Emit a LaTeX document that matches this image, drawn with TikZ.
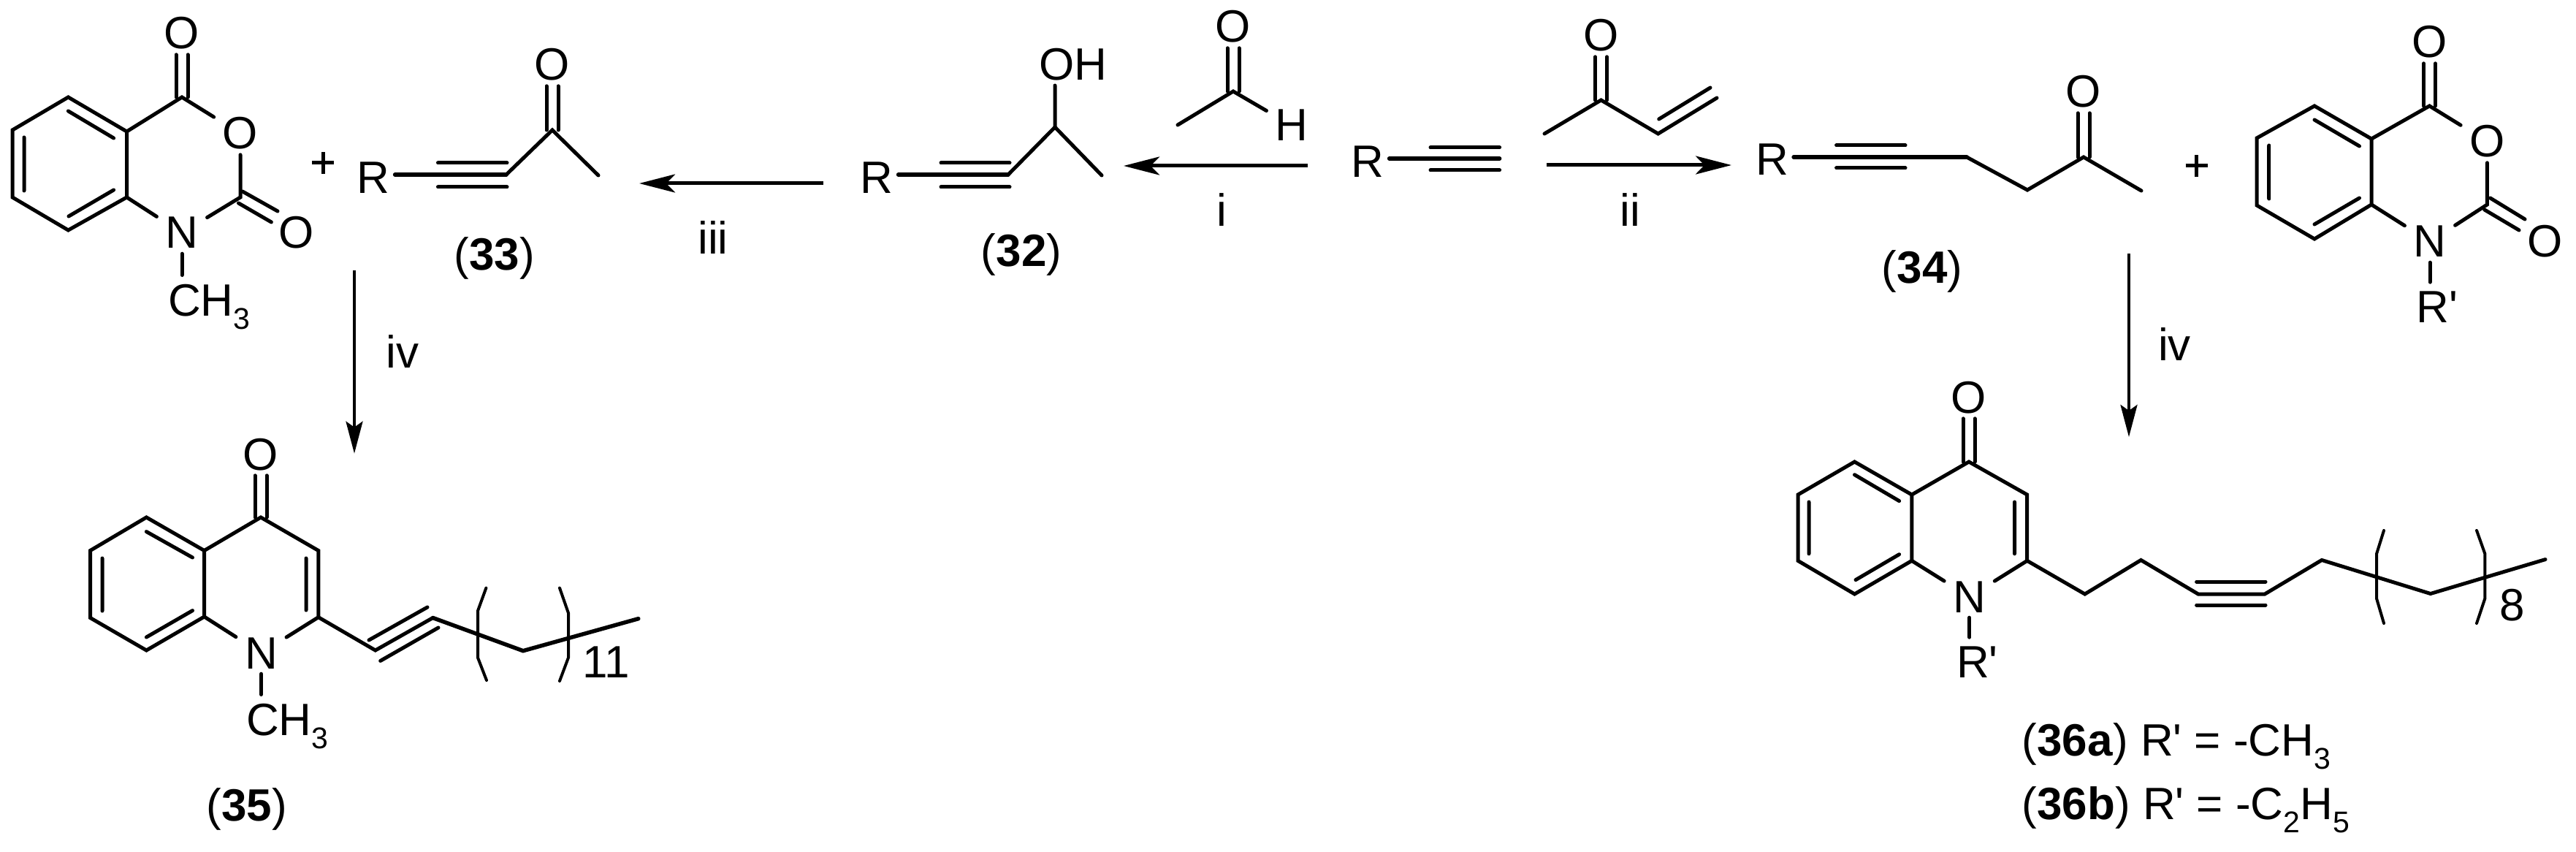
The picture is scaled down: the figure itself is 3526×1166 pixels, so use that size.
\documentclass[tikz,border=0pt]{standalone}
\usepackage{fontspec}
\setmainfont{Liberation Sans}
\newfontfamily\plainf{Liberation Sans}[Ligatures=NoCommon]
\usetikzlibrary{arrows.meta}
\newcommand\chem{\fontsize{62}{70}\selectfont}
\newcommand\subsc[1]{\raisebox{-18pt}{\fontsize{41}{45}\selectfont #1}}
\newcommand\pr{R{\plainf '}}
\tikzset{
 bond/.style={line width=5pt, line cap=round},
 tbond/.style={line width=5.5pt, line cap=round},
 atom/.style={font=\chem, inner xsep=12pt, inner ysep=7pt, anchor=base},
 rgroup/.style={font=\chem, inner xsep=7pt, inner ysep=7pt, anchor=base},
 subst/.style={font=\chem, inner xsep=0pt, inner ysep=12pt, anchor=base west},
 lbl/.style={font=\chem, inner sep=0pt, anchor=base},
 lblw/.style={font=\chem, inner sep=0pt, anchor=base west},
 harrow/.style={line width=5pt, -{Stealth[length=49pt,width=25pt,inset=12pt]}},
 varrow/.style={line width=4pt, -{Stealth[length=44pt,width=23pt,inset=8pt]}},
 brack/.style={line width=4pt, line cap=round},
 plus/.style={line width=5pt},
}
\begin{document}
\begin{tikzpicture}[x=1pt,y=-1pt]
\path[use as bounding box, fill=white] (0,0) rectangle (3526,1166);

% ---------- top-left anhydride + (33)
\coordinate (a1) at (93.4,133); \coordinate (a2) at (173.5,180);
\coordinate (a3) at (173.5,270); \coordinate (a4) at (93.4,315);
\coordinate (a5) at (17,270); \coordinate (a6) at (17,178);
\coordinate (aC4) at (249,133); \coordinate (aC2) at (329,270);
\node[atom] (aOt) at (249,67) {O};
\node[atom] (aOr) at (329,204) {O};
\node[atom] (aOs) at (405.6,339) {O};
\node[atom] (aN) at (249,340) {N};
\node[subst] (aMe) at (230,432) {CH\subsc{3}};
\draw[bond] (a1) -- (a2) -- (a3) -- (a4) -- (a5) -- (a6) -- cycle;
\draw[bond] (93.4,152) -- (155.6,189) (33,188) -- (33,261) (94,296) -- (155.6,260);
\draw[bond] (a2) -- (aC4) -- (aOr);
\draw[bond] (aOr) -- (aC2) -- (aN) -- (a3);
\draw[bond] ([xshift=-8pt]aOt.south) -- ([xshift=-8pt]aC4) ([xshift=8pt]aOt.south) -- ([xshift=8pt]aC4);
\draw[bond] (332,262) -- (380,289) (326.5,278) -- (371.4,304);
\draw[bond] (aN.south) -- (aN.south |- aMe.north);
\node[inner sep=0pt] (aPlus) at (442,223) {};
\draw[plus] ([xshift=-15pt]aPlus.center) -- ([xshift=15pt]aPlus.center) ([yshift=-15pt]aPlus.center) -- ([yshift=15pt]aPlus.center);

\node[rgroup] (sR) at (511,265) {R};
\node[atom] (sO) at (756,110) {O};
\coordinate (sT) at (693,239); \coordinate (sK) at (756,178); \coordinate (sM) at (819,240);
\draw[tbond] (sR.east |- sT) -- (sT);
\draw[bond] (599.5,223) -- (694,223) (599.5,256) -- (694,256);
\draw[bond] (sT) -- (sK) -- (sM);
\draw[bond] ([xshift=-8pt]sO.south) -- ([xshift=-8pt]sK) ([xshift=8pt]sO.south) -- ([xshift=8pt]sK);
\node[lbl] (l33) at (677,369) {(\textbf{33})};

% ---------- (32)
\node[rgroup] (pR) at (1200,265) {R};
\coordinate (pT) at (1380,239); \coordinate (pK) at (1444,174); \coordinate (pM) at (1508,240);
\coordinate (pOe) at (1444,117);
\node[lblw] (pOH) at (1422,110) {OH};
\draw[tbond] (pR.east |- pT) -- (pT);
\draw[bond] (1288,223) -- (1382,223) (1288,256) -- (1382,256);
\draw[bond] (pT) -- (pK) -- (pM) (pK) -- (pOe);
\node[lbl] (l32) at (1398,364) {(\textbf{32})};

% ---------- acetaldehyde
\coordinate (hC) at (1688,125); \coordinate (hM) at (1612,171);
\node[atom] (hO) at (1688,58) {O};
\node[atom] (hH) at (1768,193) {H};
\draw[bond] (hM) -- (hC) -- (hH);
\draw[bond] ([xshift=-8pt]hO.south) -- ([xshift=-8pt]hC) ([xshift=8pt]hO.south) -- ([xshift=8pt]hC);

% ---------- R-alkyne
\node[rgroup] (yR) at (1872,243) {R};
\coordinate (yT) at (2052.6,217);
\draw[tbond] (yR.east |- yT) -- (yT);
\draw[bond] (1958,202) -- (2052.6,202) (1958,233) -- (2052.6,233);

% ---------- MVK
\coordinate (mC) at (2191.5,137); \coordinate (mM) at (2114,183);
\coordinate (mV) at (2269.6,183); \coordinate (mE) at (2350,134);
\node[atom] (mO) at (2191.5,70) {O};
\draw[bond] (mM) -- (mC) -- (mV) -- (mE) (2270.7,163) -- (2341,120);
\draw[bond] ([xshift=-8pt]mO.south) -- ([xshift=-8pt]mC) ([xshift=8pt]mO.south) -- ([xshift=8pt]mC);

% ---------- (34)
\node[rgroup] (qR) at (2425.5,240) {R};
\coordinate (qT) at (2692,215); \coordinate (q2) at (2775,260);
\coordinate (qK) at (2852,215); \coordinate (qM) at (2931,261);
\node[atom] (qO) at (2852,147) {O};
\draw[tbond] (qR.east |- qT) -- (qT);
\draw[bond] (2513.6,199) -- (2608,199) (2513.6,230) -- (2608,230);
\draw[bond] (qT) -- (q2) -- (qK) -- (qM);
\draw[bond] ([xshift=-8pt]qO.south) -- ([xshift=-8pt]qK) ([xshift=8pt]qO.south) -- ([xshift=8pt]qK);
\node[lbl] (l34) at (2631,387) {(\textbf{34})};
\node[inner sep=0pt] (qPlus) at (3006.6,227) {};
\draw[plus] ([xshift=-15pt]qPlus.center) -- ([xshift=15pt]qPlus.center) ([yshift=-15pt]qPlus.center) -- ([yshift=15pt]qPlus.center);

% ---------- right anhydride
\coordinate (b1) at (3168,145); \coordinate (b2) at (3246,190);
\coordinate (b3) at (3246,280); \coordinate (b4) at (3168,327);
\coordinate (b5) at (3089,281); \coordinate (b6) at (3089,189);
\coordinate (bC4) at (3325.4,145); \coordinate (bC2) at (3404.4,280);
\node[atom] (bOt) at (3325.4,79) {O};
\node[atom] (bOr) at (3404.4,215) {O};
\node[atom] (bOs) at (3483.5,351) {O};
\node[atom] (bN) at (3326,352) {N};
\node[subst] (bRp) at (3307,441) {\pr};
\draw[bond] (b1) -- (b2) -- (b3) -- (b4) -- (b5) -- (b6) -- cycle;
\draw[bond] (3168,164) -- (3229.5,200) (3105.7,199) -- (3105.7,272) (3168,307) -- (3229.5,271);
\draw[bond] (b2) -- (bC4) -- (bOr);
\draw[bond] (bOr) -- (bC2) -- (bN) -- (b3);
\draw[bond] ([xshift=-8pt]bOt.south) -- ([xshift=-8pt]bC4) ([xshift=8pt]bOt.south) -- ([xshift=8pt]bC4);
\draw[bond] (3408.6,271) -- (3456,300) (3400.7,287) -- (3448,315);
\draw[bond] (bN.south) -- (bN.south |- bRp.north);

% ---------- (35)
\coordinate (c1) at (200.4,708); \coordinate (c2) at (279.6,753.5);
\coordinate (c3) at (279.6,844); \coordinate (c4) at (200.4,890);
\coordinate (c5) at (123.5,845.5); \coordinate (c6) at (123.5,753.5);
\coordinate (cC4) at (357,708); \coordinate (cC3) at (435.8,753.5); \coordinate (cC2) at (435.8,844.7);
\coordinate (cA) at (513.8,890); \coordinate (cB) at (592.5,845.5);
\coordinate (cD) at (716,890.7); \coordinate (cE) at (873.8,846.7);
\node[atom] (cO) at (357,643) {O};
\node[atom] (cN) at (357.5,915) {N};
\node[subst] (cMe) at (337,1006) {CH\subsc{3}};
\draw[bond] (c1) -- (c2) -- (c3) -- (c4) -- (c5) -- (c6) -- cycle;
\draw[bond] (200.4,727.6) -- (263.5,763) (140,764) -- (140,836) (200.4,872) -- (263.5,835.6) (419,764) -- (419,835);
\draw[bond] (c2) -- (cC4) -- (cC3) -- (cC2) -- (cN) -- (c3);
\draw[bond] ([xshift=-8pt]cO.south) -- ([xshift=-8pt]cC4) ([xshift=8pt]cO.south) -- ([xshift=8pt]cC4);
\draw[bond] (cN.south) -- (cN.south |- cMe.north);
\draw[bond] (cC2) -- (cA) -- (cB) (505,876) -- (585,831) (520.7,904.4) -- (600,859);
\draw[tbond] (cB) -- (cD) -- (cE);
\draw[brack] (665.4,804.6) -- (654,836) -- (654,900) -- (666,931);
\draw[brack] (766,804.6) -- (778,839) -- (778,900) -- (766,932);
\node[lbl] (c11) at (830,927) {11};
\node[lbl] (l35) at (337.6,1123) {(\textbf{35})};

% ---------- (36)
\coordinate (d1) at (2538.5,632); \coordinate (d2) at (2616.8,677);
\coordinate (d3) at (2616.8,767.4); \coordinate (d4) at (2538.5,813);
\coordinate (d5) at (2461,767.4); \coordinate (d6) at (2461,677);
\coordinate (dC4) at (2695,632); \coordinate (dC3) at (2774.7,677); \coordinate (dC2) at (2774.7,767.4);
\coordinate (dA) at (2853.7,813); \coordinate (dB) at (2930.5,766.5); \coordinate (dC) at (3008.8,813);
\coordinate (dD) at (3100,813); \coordinate (dE) at (3178,766.5); \coordinate (dF) at (3326.8,812.5);
\coordinate (dG) at (3484,765.6);
\node[atom] (dO) at (2695,565) {O};
\node[atom] (dN) at (2695.7,838) {N};
\node[subst] (dRp) at (2678,927) {\pr};
\draw[bond] (d1) -- (d2) -- (d3) -- (d4) -- (d5) -- (d6) -- cycle;
\draw[bond] (2538.5,649.7) -- (2599.6,685.6) (2476,687) -- (2476,757.8) (2540,793.6) -- (2599.6,758.7) (2757.5,687) -- (2757.5,757.8);
\draw[bond] (d2) -- (dC4) -- (dC3) -- (dC2) -- (dN) -- (d3);
\draw[bond] ([xshift=-8pt]dO.south) -- ([xshift=-8pt]dC4) ([xshift=8pt]dO.south) -- ([xshift=8pt]dC4);
\draw[bond] (dN.south) -- (dN.south |- dRp.north);
\draw[bond] (dC2) -- (dA) -- (dB) -- (dC) -- (dD) -- (dE) -- (dF) -- (dG);
\draw[bond] (3006.6,796) -- (3101,796) (3006.6,828) -- (3101,828);
\draw[brack] (3263,726) -- (3253,758) -- (3253,819) -- (3263,853);
\draw[brack] (3390,726) -- (3401.4,758) -- (3401.4,819) -- (3390,853);
\node[lbl] (d8) at (3439,849) {8};
\node[lblw] (l36a) at (2767.5,1034) {(\textbf{36a}) \pr{} = -CH\subsc{3}};
\node[lblw] (l36b) at (2767.5,1121) {(\textbf{36b}) \pr{} = -C\subsc{2}H\subsc{5}};

% ---------- reaction arrows
\coordinate (a1s) at (1790,227); \coordinate (a1e) at (1538,227);
\coordinate (a2s) at (2117,226); \coordinate (a2e) at (2370,226);
\coordinate (a3s) at (1126.5,251); \coordinate (a3e) at (875,251);
\coordinate (a4s) at (485,370); \coordinate (a4e) at (485,620.7);
\coordinate (a5s) at (2914,347); \coordinate (a5e) at (2914,598);
\draw[harrow] (a1s) -- (a1e);
\draw[harrow] (a2s) -- (a2e);
\draw[harrow] (a3s) -- (a3e);
\draw[varrow] (a4s) -- (a4e);
\draw[varrow] (a5s) -- (a5e);
\node[lbl] (ti) at (1672,310) {i};
\node[lbl] (tii) at (2231,310) {ii};
\node[lbl] (tiii) at (976,347) {iii};
\node[lbl] (tiva) at (551,503) {iv};
\node[lbl] (tivb) at (2976.5,493) {iv};
\end{tikzpicture}
\end{document}
